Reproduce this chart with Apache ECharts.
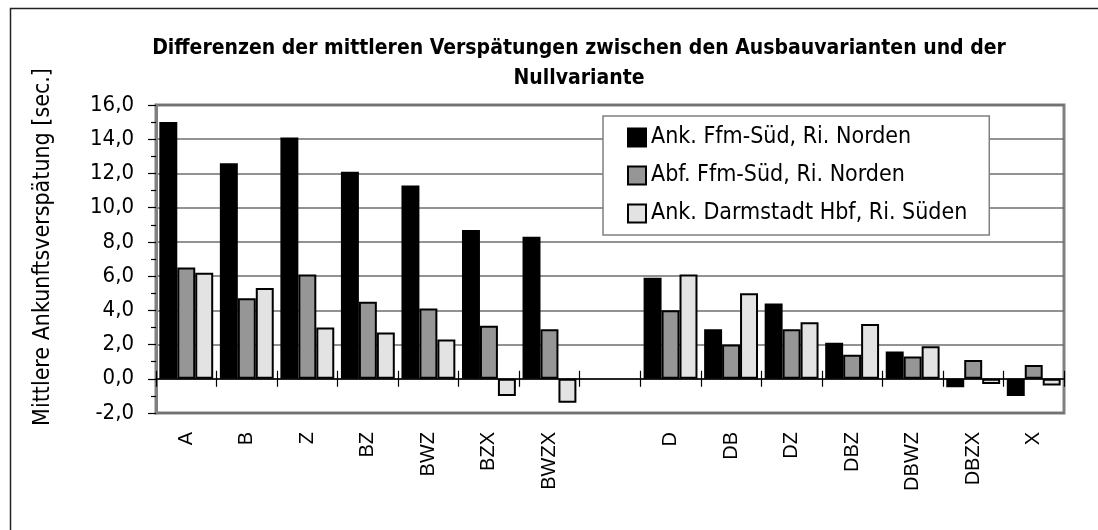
<!DOCTYPE html>
<html>
<head>
<meta charset="utf-8">
<script src="https://cdn.jsdelivr.net/npm/echarts@6/dist/echarts.min.js"></script>
<style>
  html, body { margin: 0; padding: 0; background: #fff; }
  #chart { width: 1098px; height: 530px; }
</style>
</head>
<body>
<div id="chart"></div>
<script>
// Variants (the empty slot separates the two groups)
const categories = ['A', 'B', 'Z', 'BZ', 'BWZ', 'BZX', 'BWZX', '', 'D', 'DB', 'DZ', 'DBZ', 'DBWZ', 'DBZX', 'X'];

// Mean delay differences in seconds
const ankFfmSued = [15.0, 12.6, 14.1, 12.1, 11.3, 8.7, 8.3, null, 5.9, 2.9, 4.4, 2.1, 1.6, -0.5, -1.0];
const abfFfmSued = [6.5, 4.7, 6.1, 4.5, 4.1, 3.1, 2.9, null, 4.0, 2.0, 2.9, 1.4, 1.3, 1.1, 0.8];
const ankDarmstadt = [6.2, 5.3, 3.0, 2.7, 2.3, -1.0, -1.4, null, 6.1, 5.0, 3.3, 3.2, 1.9, -0.3, -0.4];

const seriesNames = ['Ank. Ffm-Süd, Ri. Norden', 'Abf. Ffm-Süd, Ri. Norden', 'Ank. Darmstadt Hbf, Ri. Süden'];
const yTicks = { min: -2, max: 16, interval: 2 };

const narrow = '"Liberation Sans Narrow", "DejaVu Sans Condensed", "Liberation Sans", sans-serif';
const regular = '"Liberation Sans", Arial, sans-serif';

const chart = echarts.init(document.getElementById('chart'), null, { renderer: 'canvas' });

function barSeries(name, data, color) {
  return {
    name: name,
    type: 'bar',
    data: data,
    barGap: '0%',
    barCategoryGap: '11%',
    itemStyle: { color: color, borderColor: '#000', borderWidth: 2 },
    emphasis: { disabled: true }
  };
}

const catAxisBase = {
  type: 'category',
  data: categories,
  gridIndex: 0,
  boundaryGap: true,
  splitLine: { show: false }
};

chart.setOption({
  animation: false,
  backgroundColor: '#fff',
  title: {
    text: 'Differenzen der mittleren Verspätungen zwischen den Ausbauvarianten und der\nNullvariante',
    left: 574,
    top: 29,
    textAlign: 'center',
    textStyle: {
      fontFamily: narrow,
      fontWeight: 'bold',
      fontSize: 21,
      lineHeight: 30,
      color: '#000'
    }
  },
  legend: {
    orient: 'vertical',
    left: 603,
    top: 116,
    padding: [10, 22, 10, 24],
    itemWidth: 18,
    itemHeight: 18,
    itemGap: 15,
    icon: 'rect',
    backgroundColor: '#fff',
    borderColor: '#808080',
    borderWidth: 1.5,
    borderRadius: 0,
    textStyle: { fontFamily: narrow, fontSize: 23, lineHeight: 18, color: '#000' },
    data: seriesNames
  },
  grid: {
    left: 156,
    top: 105,
    right: 34,
    bottom: 117,
    show: true,
    borderColor: '#808080',
    borderWidth: 3,
    backgroundColor: 'transparent'
  },
  xAxis: [
    // labels along the bottom edge of the plot
    Object.assign({}, catAxisBase, {
      position: 'bottom',
      axisLine: { show: false, onZero: false },
      axisTick: { show: false },
      axisLabel: {
        rotate: 90,
        margin: 19,
        interval: 0,
        fontFamily: regular,
        fontSize: 20,
        color: '#000'
      }
    }),
    // zero line with downward category ticks
    Object.assign({}, catAxisBase, {
      position: 'bottom',
      axisLine: { show: true, onZero: true, onZeroAxisIndex: 0, lineStyle: { color: '#000', width: 1.5 } },
      axisTick: { show: true, length: 8, interval: 0, lineStyle: { color: '#000', width: 1.2 } },
      axisLabel: { show: false }
    }),
    // upward half of the crossing ticks
    Object.assign({}, catAxisBase, {
      position: 'top',
      axisLine: { show: false, onZero: true, onZeroAxisIndex: 0 },
      axisTick: { show: true, length: 8, interval: 0, lineStyle: { color: '#000', width: 1.2 } },
      axisLabel: { show: false }
    })
  ],
  yAxis: {
    type: 'value',
    min: yTicks.min,
    max: yTicks.max,
    interval: yTicks.interval,
    name: 'Mittlere Ankunftsverspätung [sec.]',
    nameLocation: 'middle',
    nameGap: 101,
    nameTextStyle: { fontFamily: narrow, fontSize: 23, color: '#000', padding: [0, 0, 0, 24] },
    axisLine: { show: true, lineStyle: { color: '#808080', width: 3 } },
    axisTick: { show: true, length: 8, lineStyle: { color: '#000', width: 1.2 } },
    minorTick: { show: true, splitNumber: 2, length: 5, lineStyle: { color: '#000', width: 1.2 } },
    axisLabel: {
      fontFamily: narrow,
      fontSize: 22,
      color: '#000',
      margin: 22,
      formatter: v => v.toFixed(1).replace('.', ',')
    },
    splitLine: { show: true, lineStyle: { color: '#6e6e6e', width: 1.5 } }
  },
  graphic: [
    {
      type: 'rect',
      left: 8,
      top: 6,
      shape: { width: 1200, height: 600 },
      style: { fill: 'none', stroke: '#222', lineWidth: 1.5 },
      silent: true,
      z: -1
    }
  ],
  series: [
    barSeries(seriesNames[0], ankFfmSued, '#000000'),
    barSeries(seriesNames[1], abfFfmSued, '#969696'),
    barSeries(seriesNames[2], ankDarmstadt, '#e3e3e3')
  ]
});
</script>
</body>
</html>
